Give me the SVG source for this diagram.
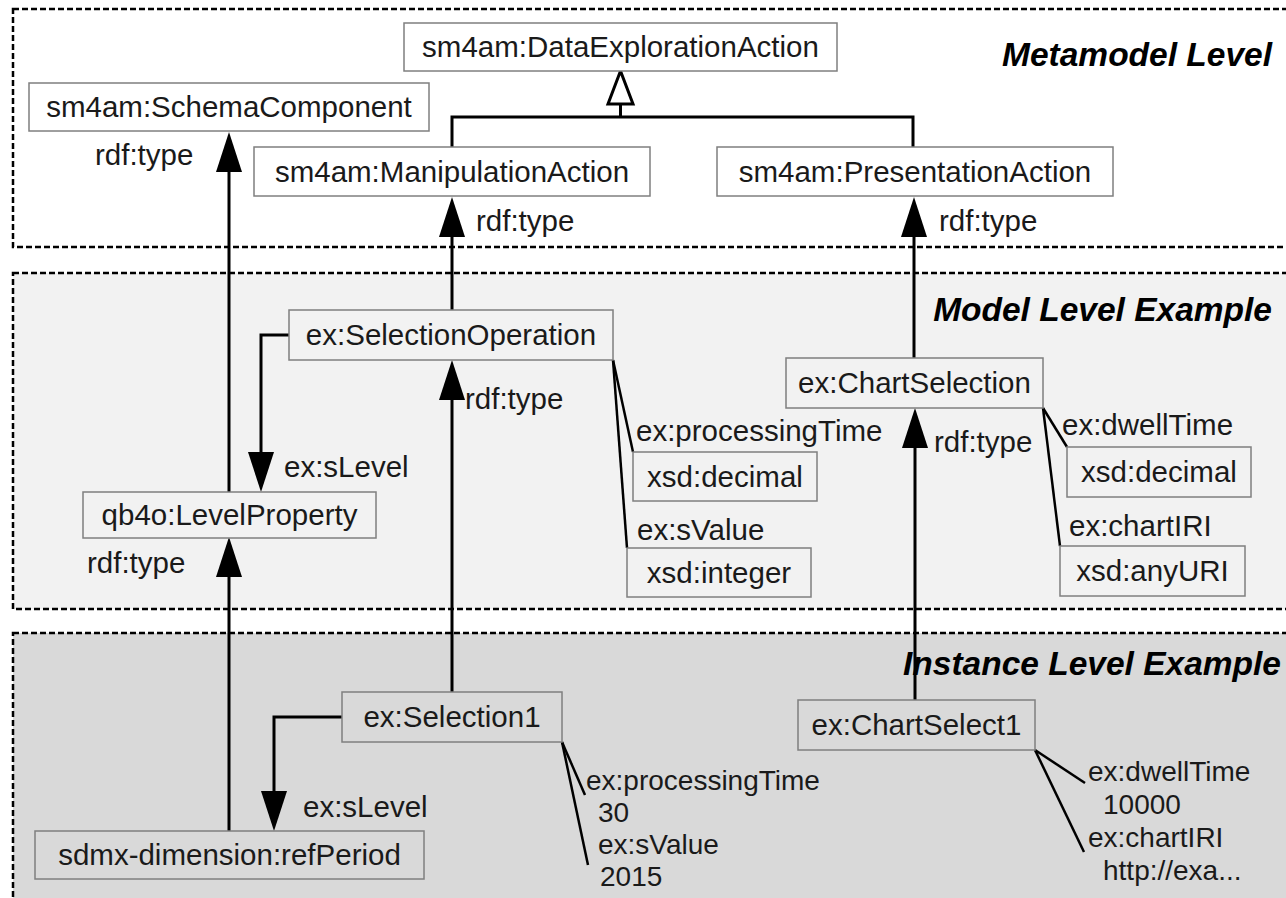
<svg xmlns="http://www.w3.org/2000/svg" width="1286" height="898" viewBox="0 0 1286 898">
<style>
.panel{stroke:#000;stroke-width:2.5;stroke-dasharray:6 3}
.box{stroke:#7f7f7f;stroke-width:1.5}
.t{font-family:"Liberation Sans",Arial,sans-serif;font-size:29.5px;fill:#1a1a1a}
.s{font-size:28px}
.c{text-anchor:middle}
.title{font-family:"Liberation Sans",Arial,sans-serif;font-size:33.5px;font-weight:bold;font-style:italic;fill:#000;text-anchor:end}
.ln{stroke:#000;stroke-width:3;fill:none}
.at{stroke:#000;stroke-width:2.5;fill:none}
.arr{marker-end:url(#ah)}
</style>
<defs>
<marker id="ah" markerUnits="userSpaceOnUse" markerWidth="40" markerHeight="26" refX="30" refY="13" orient="auto">
<path d="M0,0 L40,13 L0,26 z" fill="#000"/>
</marker>
</defs>
<rect width="1286" height="898" fill="#fff"/>
<g id="panels">
<rect class="panel" x="13" y="9" width="1290" height="238" fill="#fff"/>
<rect class="panel" x="13" y="273" width="1290" height="336" fill="#f2f2f2"/>
<rect class="panel" x="13" y="633" width="1290" height="300" fill="#d9d9d9"/>
<text class="title" x="1272" y="66">Metamodel Level</text>
<text class="title" x="1272" y="321">Model Level Example</text>
<text class="title" x="1281" y="675">Instance Level Example</text>
</g>
<g id="connectors">
<polyline class="ln" points="452,147 452,117 913,117 913,147"/>
<line class="ln" x1="620.5" y1="117" x2="620.5" y2="104"/>
<polygon points="620.5,71 608,104 633,104" fill="#fff" stroke="#000" stroke-width="3" stroke-linejoin="miter"/>
<line class="ln arr" x1="229" y1="492" x2="229" y2="142"/>
<line class="ln arr" x1="229" y1="831" x2="229" y2="547"/>
<line class="ln arr" x1="452" y1="310" x2="452" y2="207"/>
<line class="ln arr" x1="452" y1="692" x2="452" y2="370"/>
<line class="ln arr" x1="914" y1="358" x2="914" y2="207"/>
<line class="ln arr" x1="915" y1="700" x2="915" y2="418"/>
<polyline class="ln arr" points="289,335 261,335 261,482"/>
<polyline class="ln arr" points="342,717 274,717 274,821"/>
<line class="at" x1="613" y1="360" x2="633" y2="452"/>
<line class="at" x1="613" y1="360" x2="627" y2="548"/>
<line class="at" x1="1043" y1="408" x2="1067" y2="447"/>
<line class="at" x1="1043" y1="408" x2="1060" y2="546"/>
<line class="at" x1="562" y1="742" x2="585" y2="795"/>
<line class="at" x1="562" y1="742" x2="588" y2="865"/>
<line class="at" x1="1035" y1="750" x2="1085" y2="783"/>
<line class="at" x1="1035" y1="750" x2="1084" y2="852"/>
<text class="t" x="95" y="165">rdf:type</text>
<text class="t" x="476" y="231">rdf:type</text>
<text class="t" x="939" y="231">rdf:type</text>
<text class="t" x="465" y="409">rdf:type</text>
<text class="t" x="284" y="477">ex:sLevel</text>
<text class="t" x="87" y="573">rdf:type</text>
<text class="t" x="636" y="441">ex:processingTime</text>
<text class="t" x="637" y="540">ex:sValue</text>
<text class="t" x="934" y="452">rdf:type</text>
<text class="t" x="1062" y="435">ex:dwellTime</text>
<text class="t" x="1069" y="536">ex:chartIRI</text>
<text class="t" x="303" y="817">ex:sLevel</text>
<text class="t s" x="586" y="790">ex:processingTime</text>
<text class="t s" x="598" y="822">30</text>
<text class="t s" x="598" y="854">ex:sValue</text>
<text class="t s" x="600" y="886">2015</text>
<text class="t s" x="1088" y="781">ex:dwellTime</text>
<text class="t s" x="1103" y="814">10000</text>
<text class="t s" x="1088" y="847">ex:chartIRI</text>
<text class="t s" x="1103" y="880">http://exa...</text>
</g>
<g id="n-dataexploration">
<rect class="box" x="404" y="23" width="433" height="48" fill="#fff"/>
<text class="t c" x="620.5" y="57">sm4am:DataExplorationAction</text>
</g>
<g id="n-schemacomponent">
<rect class="box" x="29" y="83" width="400" height="48" fill="#fff"/>
<text class="t c" x="229" y="117">sm4am:SchemaComponent</text>
</g>
<g id="n-manipulation">
<rect class="box" x="254" y="147" width="396" height="49" fill="#fff"/>
<text class="t c" x="452" y="182">sm4am:ManipulationAction</text>
</g>
<g id="n-presentation">
<rect class="box" x="717" y="147" width="396" height="49" fill="#fff"/>
<text class="t c" x="915" y="182">sm4am:PresentationAction</text>
</g>
<g id="n-selectionoperation">
<rect class="box" x="289" y="310" width="324" height="50" fill="#f2f2f2"/>
<text class="t c" x="451" y="345">ex:SelectionOperation</text>
</g>
<g id="n-chartselection">
<rect class="box" x="786" y="358" width="257" height="50" fill="#f2f2f2"/>
<text class="t c" x="914.5" y="393">ex:ChartSelection</text>
</g>
<g id="n-decimal1">
<rect class="box" x="633" y="452" width="184" height="49" fill="#f2f2f2"/>
<text class="t c" x="725" y="487">xsd:decimal</text>
</g>
<g id="n-integer">
<rect class="box" x="627" y="548" width="184" height="49" fill="#f2f2f2"/>
<text class="t c" x="719" y="583">xsd:integer</text>
</g>
<g id="n-decimal2">
<rect class="box" x="1067" y="447" width="184" height="50" fill="#f2f2f2"/>
<text class="t c" x="1159" y="482">xsd:decimal</text>
</g>
<g id="n-anyuri">
<rect class="box" x="1060" y="546" width="185" height="50" fill="#f2f2f2"/>
<text class="t c" x="1152.5" y="581">xsd:anyURI</text>
</g>
<g id="n-levelproperty">
<rect class="box" x="83" y="492" width="293" height="46" fill="#f2f2f2"/>
<text class="t c" x="229.5" y="525">qb4o:LevelProperty</text>
</g>
<g id="n-selection1">
<rect class="box" x="342" y="692" width="220" height="50" fill="#d9d9d9"/>
<text class="t c" x="452" y="727">ex:Selection1</text>
</g>
<g id="n-chartselect1">
<rect class="box" x="798" y="700" width="237" height="50" fill="#d9d9d9"/>
<text class="t c" x="916.5" y="735">ex:ChartSelect1</text>
</g>
<g id="n-refperiod">
<rect class="box" x="35" y="831" width="389" height="48" fill="#d9d9d9"/>
<text class="t c" x="229.5" y="865">sdmx-dimension:refPeriod</text>
</g>
</svg>
